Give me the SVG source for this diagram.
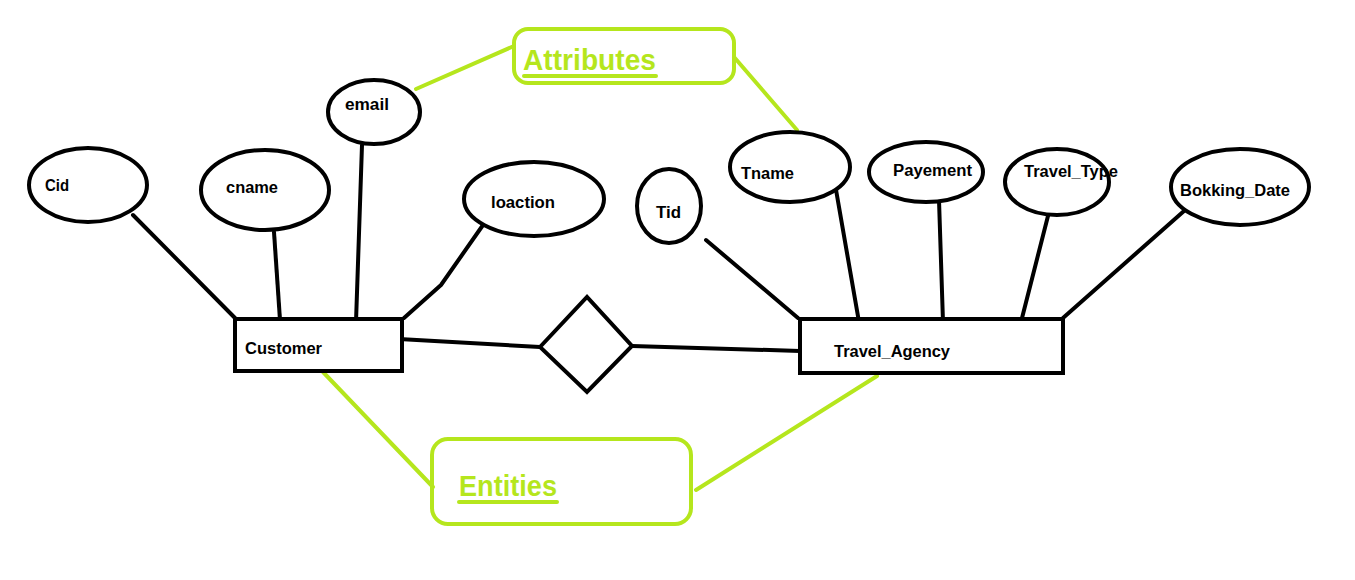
<svg xmlns="http://www.w3.org/2000/svg" width="1355" height="580" viewBox="0 0 1355 580">
<style>
.b{fill:none;stroke:#000;stroke-width:4;stroke-linejoin:round;stroke-linecap:round}
.shape{fill:#fff;stroke:#000;stroke-width:4}
.g{fill:none;stroke:#b5e61d;stroke-width:4;stroke-linecap:round}
.t{font-family:"Liberation Sans",Arial,sans-serif;font-weight:bold;font-size:16px;fill:#000}
.gt{font-family:"Liberation Sans",Arial,sans-serif;font-weight:bold;font-size:29px;fill:#b5e61d}
</style>
<rect width="1355" height="580" fill="#fff"/>
<g id="connectors">
<line class="b" x1="133" y1="215" x2="235" y2="318"/>
<line class="b" x1="274" y1="232" x2="280" y2="320"/>
<line class="b" x1="362" y1="145" x2="356" y2="322"/>
<polyline class="b" points="483,225 441,285 404,318"/>
<line class="b" x1="399" y1="339" x2="540" y2="347"/>
<line class="b" x1="632" y1="346" x2="800" y2="351"/>
<line class="b" x1="706" y1="240" x2="798" y2="318"/>
<line class="b" x1="835" y1="184" x2="859" y2="322"/>
<line class="b" x1="939" y1="200" x2="943" y2="322"/>
<line class="b" x1="1049" y1="212" x2="1021" y2="322"/>
<line class="b" x1="1184" y1="211" x2="1063" y2="318"/>
<line class="g" x1="416" y1="89" x2="514" y2="46"/>
<line class="g" x1="734" y1="57" x2="797" y2="130"/>
<line class="g" x1="323" y1="372" x2="433" y2="487"/>
<line class="g" x1="877" y1="376" x2="696" y2="490"/>
</g>
<g id="Cid"><ellipse class="shape" cx="88" cy="185" rx="59" ry="37"/><text class="t" x="45" y="191" textLength="24" lengthAdjust="spacingAndGlyphs">Cid</text></g>
<g id="cname"><ellipse class="shape" cx="265" cy="190" rx="64" ry="40"/><text class="t" x="226" y="193" textLength="52" lengthAdjust="spacingAndGlyphs">cname</text></g>
<g id="email"><ellipse class="shape" cx="374" cy="112" rx="46" ry="32"/><text class="t" x="345" y="110" textLength="44" lengthAdjust="spacingAndGlyphs">email</text></g>
<g id="loaction"><ellipse class="shape" cx="534" cy="199" rx="70" ry="37"/><text class="t" x="491" y="208" textLength="64" lengthAdjust="spacingAndGlyphs">loaction</text></g>
<g id="Tid"><ellipse class="shape" cx="669" cy="206" rx="32" ry="37"/><text class="t" x="656" y="218" textLength="25" lengthAdjust="spacingAndGlyphs">Tid</text></g>
<g id="Tname"><ellipse class="shape" cx="790" cy="167" rx="60" ry="35"/><text class="t" x="741" y="179" textLength="53" lengthAdjust="spacingAndGlyphs">Tname</text></g>
<g id="Payement"><ellipse class="shape" cx="926" cy="172" rx="57" ry="30"/><text class="t" x="893" y="176" textLength="79" lengthAdjust="spacingAndGlyphs">Payement</text></g>
<g id="Travel_Type"><ellipse class="shape" cx="1057" cy="182" rx="52" ry="33"/><text class="t" x="1024" y="177" textLength="94" lengthAdjust="spacingAndGlyphs">Travel_Type</text></g>
<g id="Bokking_Date"><ellipse class="shape" cx="1240" cy="187" rx="69" ry="38"/><text class="t" x="1180" y="196" textLength="110" lengthAdjust="spacingAndGlyphs">Bokking_Date</text></g>
<g id="Customer"><rect class="shape" x="235" y="319" width="167" height="52"/><text class="t" x="245" y="354" textLength="77" lengthAdjust="spacingAndGlyphs">Customer</text></g>
<g id="Travel_Agency"><rect class="shape" x="800" y="319" width="263" height="54"/><text class="t" x="834" y="357" textLength="116" lengthAdjust="spacingAndGlyphs">Travel_Agency</text></g>
<g id="relationship"><polygon class="shape" points="540,347 587,297 632,346 587,392"/></g>
<g id="Attributes"><rect class="g" x="514" y="29" width="220" height="54" rx="14"/><text class="gt" x="523" y="70" textLength="133" lengthAdjust="spacingAndGlyphs">Attributes</text><line class="g" x1="524" y1="76" x2="656" y2="76" stroke-linecap="butt"/></g>
<g id="Entities"><rect class="g" x="432" y="439" width="259" height="85" rx="16"/><text class="gt" x="459" y="496" textLength="98" lengthAdjust="spacingAndGlyphs">Entities</text><line class="g" x1="459" y1="502" x2="557" y2="502" stroke-linecap="butt"/></g>
</svg>
